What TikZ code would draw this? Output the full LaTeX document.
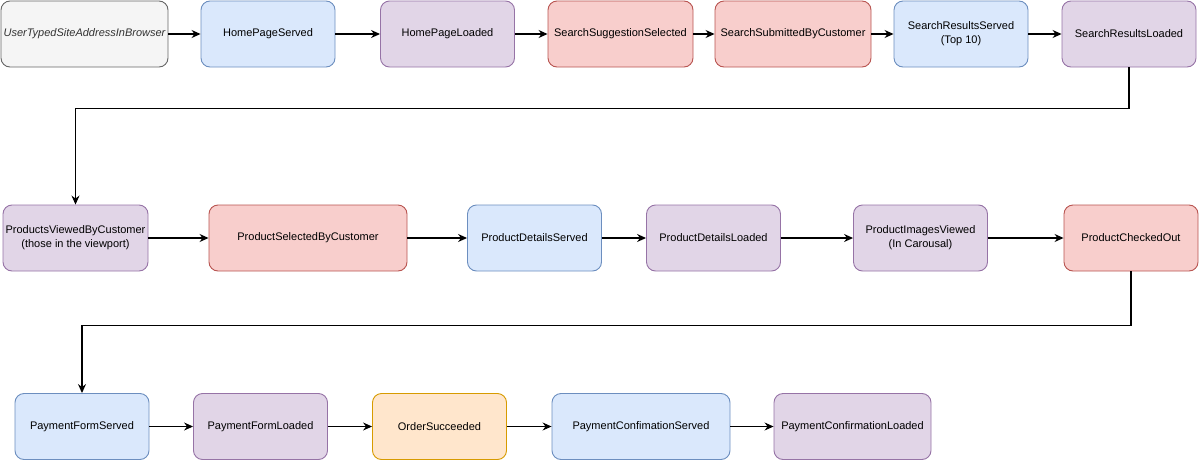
\documentclass[tikz,border=0pt]{standalone}
\usepackage{fontspec}
\setmainfont{Liberation Sans}
\usepackage{tikz}
\usetikzlibrary{arrows.meta}

\definecolor{greyfill}{HTML}{F5F5F5}
\definecolor{greyline}{HTML}{666666}
\definecolor{greytext}{HTML}{333333}
\definecolor{bluefill}{HTML}{DAE8FC}
\definecolor{blueline}{HTML}{6C8EBF}
\definecolor{purplefill}{HTML}{E1D5E7}
\definecolor{purpleline}{HTML}{9673A6}
\definecolor{redfill}{HTML}{F8CECC}
\definecolor{redline}{HTML}{B85450}
\definecolor{orangefill}{HTML}{FFE6CC}
\definecolor{orangeline}{HTML}{D79B00}

\begin{document}
\begin{tikzpicture}[x=1pt,y=-1pt,
    event/.style={rectangle,rounded corners=9pt,line width=0.9pt,minimum width=134pt,minimum height=66pt,
        inner xsep=1pt,align=center,font=\fontsize{11}{14}\selectfont},
    start/.style={event,fill=greyfill,draw=greyline,text=greytext,font=\fontsize{11}{14}\selectfont\itshape},
    served/.style={event,fill=bluefill,draw=blueline},
    loaded/.style={event,fill=purplefill,draw=purpleline},
    action/.style={event,fill=redfill,draw=redline},
    success/.style={event,fill=orangefill,draw=orangeline},
    flow/.style={line width=1.1pt,-{Stealth[length=9pt,width=8pt,inset=3pt]}}]
        \useasboundingbox (0,0) rectangle (1200,461);
        \node[start,minimum width=167pt] (typed) at (84.5,34) {UserTypedSiteAddressInBrowser};
        \node[served] (homeserved) at (268,34) {HomePageServed};
        \node[loaded] (homeloaded) at (447.5,34) {HomePageLoaded};
        \node[action,minimum width=145pt] (suggestion) at (620.5,34) {SearchSuggestionSelected};
        \node[action,minimum width=156pt] (submitted) at (793,34) {SearchSubmittedByCustomer};
        \node[served] (resultsserved) at (961,34) {SearchResultsServed\\(Top 10)};
        \node[loaded] (resultsloaded) at (1129,34) {SearchResultsLoaded};
        \node[loaded,minimum width=145pt] (viewed) at (75.5,238) {ProductsViewedByCustomer\\(those in the viewport)};
        \node[action,minimum width=198pt] (selected) at (308,238) {ProductSelectedByCustomer};
        \node[served] (detailsserved) at (534.5,238) {ProductDetailsServed};
        \node[loaded] (detailsloaded) at (713.5,238) {ProductDetailsLoaded};
        \node[loaded] (images) at (920.5,238) {ProductImagesViewed\\(In Carousal)};
        \node[action] (checkedout) at (1131,238) {ProductCheckedOut};
        \node[served] (formserved) at (82,426.5) {PaymentFormServed};
        \node[loaded] (formloaded) at (260.5,426.5) {PaymentFormLoaded};
        \node[success] (succeeded) at (439.5,426.5) {OrderSucceeded};
        \node[served,minimum width=178pt] (confserved) at (641,426.5) {PaymentConfimationServed};
        \node[loaded,minimum width=157pt] (confloaded) at (852.5,426.5) {PaymentConfirmationLoaded};
        \draw[flow] (typed) -- (homeserved);
        \draw[flow] (homeserved) -- (homeloaded);
        \draw[flow] (homeloaded) -- (suggestion);
        \draw[flow] (suggestion) -- (submitted);
        \draw[flow] (submitted) -- (resultsserved);
        \draw[flow] (resultsserved) -- (resultsloaded);
        \draw[flow] (resultsloaded.south) -- ++(0,41) -| (viewed.north);
        \draw[flow] (viewed) -- (selected);
        \draw[flow] (selected) -- (detailsserved);
        \draw[flow] (detailsserved) -- (detailsloaded);
        \draw[flow] (detailsloaded) -- (images);
        \draw[flow] (images) -- (checkedout);
        \draw[flow] (checkedout.south) -- ++(0,54) -| (formserved.north);
        \draw[flow] (formserved) -- (formloaded);
        \draw[flow] (formloaded) -- (succeeded);
        \draw[flow] (succeeded) -- (confserved);
        \draw[flow] (confserved) -- (confloaded);
    \end{tikzpicture}
\end{document}
